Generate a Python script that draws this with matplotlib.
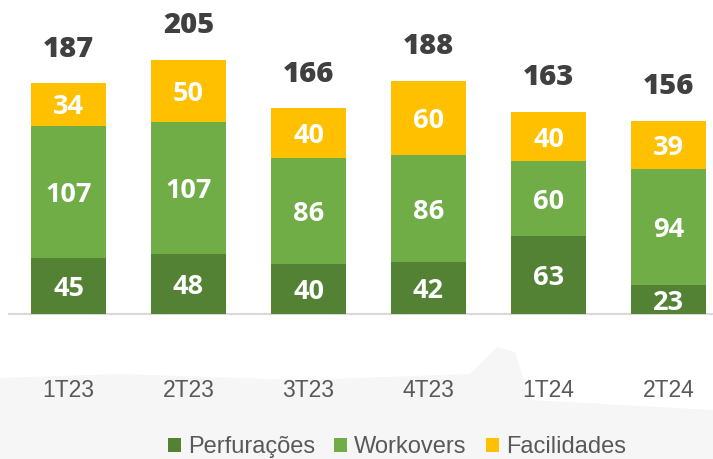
import numpy as np
import matplotlib
matplotlib.use('Agg')
import matplotlib.pyplot as plt
from matplotlib.patches import Polygon

# data
periods = ['1T23', '2T23', '3T23', '4T23', '1T24', '2T24']
perfuracoes = [45, 48, 40, 42, 63, 23]
workovers = [107, 107, 86, 86, 60, 94]
facilidades = [34, 50, 40, 60, 40, 39]
totals = [187, 205, 166, 188, 163, 156]

c_perf = '#548235'
c_work = '#70AD47'
c_fac = '#FFC000'

W, H = 713, 459
fig = plt.figure(figsize=(W / 100, H / 100), dpi=100)
fig.patch.set_facecolor('white')

# faint background silhouette (decorative), in pixel coords on a full-figure axes
bgax = fig.add_axes([0, 0, 1, 1], zorder=-1)
bgax.set_xlim(0, W)
bgax.set_ylim(H, 0)
bgax.axis('off')
bgax.add_patch(Polygon([(0, 378), (120, 374), (300, 380), (470, 374), (497, 347), (515, 352),
                        (530, 400), (713, 410), (713, 459), (0, 459)],
                       closed=True, facecolor='#f6f6f6', edgecolor='none'))

# axes placed in pixel units
left, right, base, top = 9, 713, 314, 0
ax = fig.add_axes([left / W, (H - base) / H, (right - left) / W, (base - top) / H])
ax.patch.set_alpha(0)

x = np.arange(len(periods))
w = 0.625
p = np.array(perfuracoes)
wk = np.array(workovers)
f = np.array(facilidades)

b1 = ax.bar(x, p, w, color=c_perf, label='Perfurações', zorder=3)
b2 = ax.bar(x, wk, w, bottom=p, color=c_work, label='Workovers', zorder=3)
b3 = ax.bar(x, f, w, bottom=p + wk, color=c_fac, label='Facilidades', zorder=3)

px_per_unit = 1.24
ax.set_ylim(0, base / px_per_unit)
ax.set_xlim((left - 68.5) / 120, (right - 68.5) / 120)

bold = dict(family='Open Sans', fontweight='bold', fontsize=19.5)
for i in range(len(periods)):
    ax.text(x[i], p[i] / 2, str(p[i]), ha='center', va='center_baseline', color='white', zorder=4, **bold)
    ax.text(x[i], p[i] + wk[i] / 2, str(wk[i]), ha='center', va='center_baseline', color='white', zorder=4, **bold)
    ax.text(x[i], p[i] + wk[i] + f[i] / 2, str(f[i]), ha='center', va='center_baseline', color='white', zorder=4, **bold)
    ax.annotate(str(totals[i]), xy=(x[i], p[i] + wk[i] + f[i]), xytext=(0, 19), textcoords='offset points',
                ha='center', va='baseline', color='#404040', family='Open Sans', fontweight='heavy', fontsize=21)

for s in ['top', 'left', 'right']:
    ax.spines[s].set_visible(False)
ax.spines['bottom'].set_color('#d9d9d9')
ax.spines['bottom'].set_linewidth(1.5)
ax.set_yticks([])
ax.set_xticks(x)
ax.set_xticklabels(periods, family='Liberation Sans', fontsize=16.5, color='#595959')
ax.tick_params(axis='x', length=0, pad=47)

fig.legend(handles=[b1, b2, b3], loc='center', bbox_to_anchor=(397 / W, 1 - 447 / H),
           ncol=3, frameon=False, handlelength=0.55, handleheight=0.55, handletextpad=0.3,
           columnspacing=0.8, borderaxespad=0,
           prop={'family': 'Liberation Sans', 'size': 17}, labelcolor='#595959')

plt.savefig('out.png', dpi=100)
